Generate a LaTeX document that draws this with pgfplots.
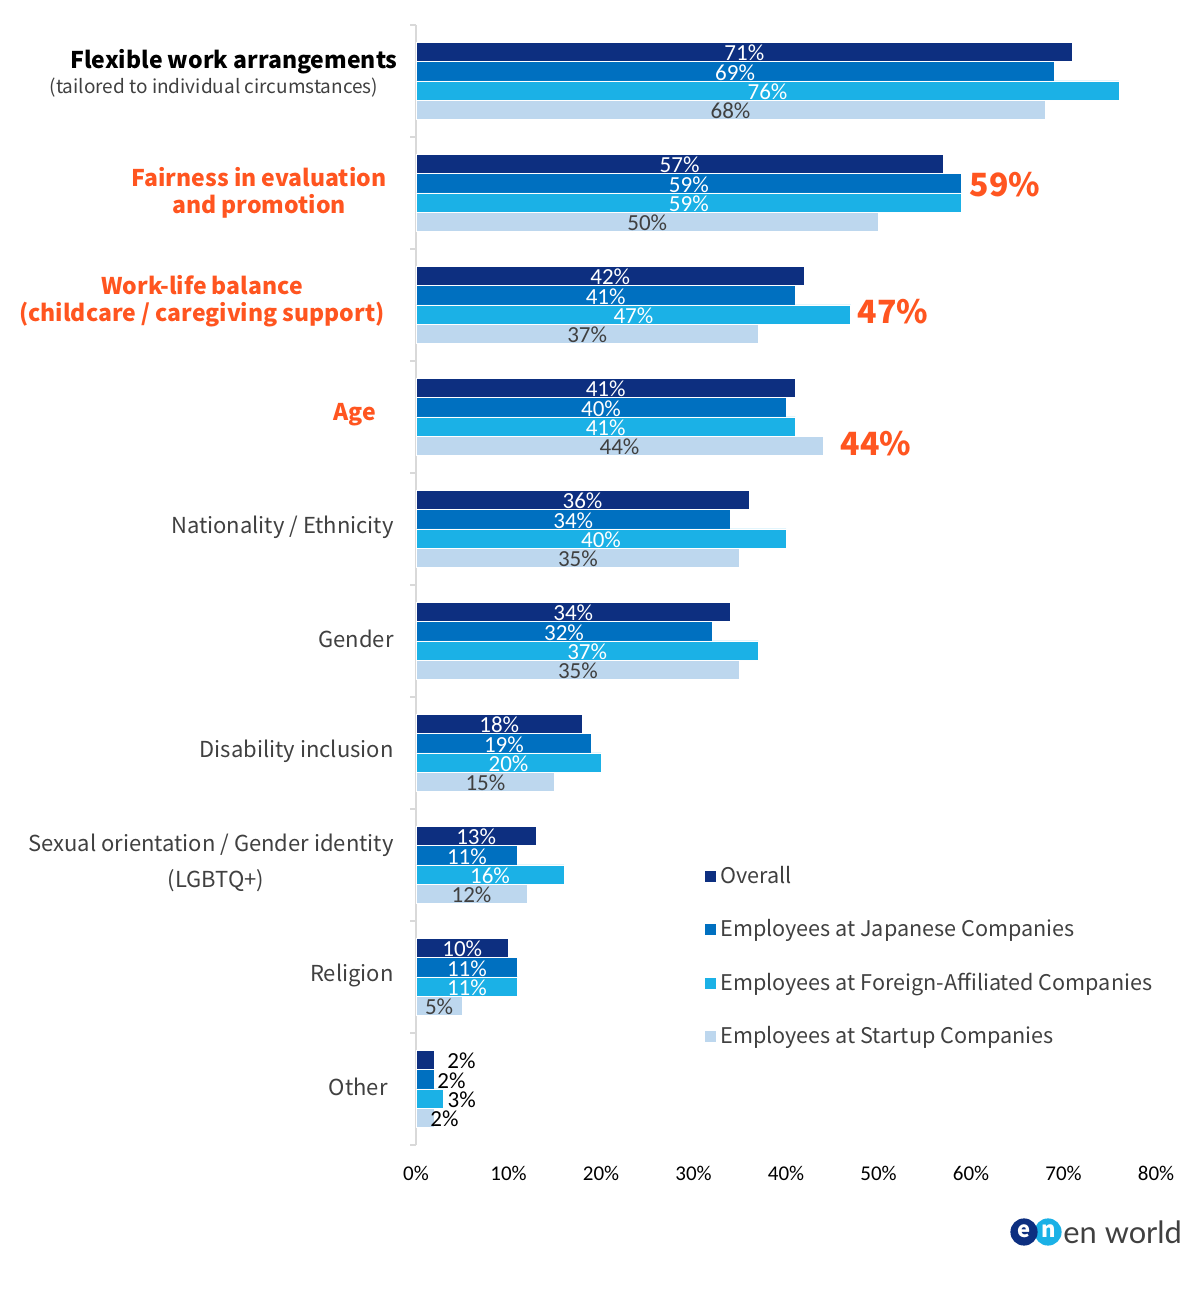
\documentclass[border=0pt]{standalone}
\usepackage{fontspec}
\setmainfont{Noto Sans CJK JP}
\newfontfamily\numfont{Carlito}
\newfontfamily\logofont{Lato}
\usepackage{pgfplots}
\pgfplotsset{compat=1.18}
\definecolor{cNavy}{HTML}{0D2F80}
\definecolor{cJap}{HTML}{0070C0}
\definecolor{cFor}{HTML}{1BB1E6}
\definecolor{cStart}{HTML}{BDD7EE}
\definecolor{cOrange}{HTML}{FF5520}
\definecolor{cText}{HTML}{404040}
\definecolor{cAxis}{HTML}{D9D9D9}
\begin{document}
\begin{tikzpicture}[x=1pt,y=1pt]
\begin{axis}[
  at={(208pt,72pt)}, anchor=south west,
  scale only axis, width=370pt, height=560pt,
  xmin=0, xmax=80, ymin=-0.5, ymax=9.5,
  xbar, bar width=0.172,
  clip=false,
  axis lines=left, axis line style={-},
  x axis line style={draw=none},
  y axis line style={draw=cAxis, line width=0.6pt},
  xtick={0,10,...,80},
  xticklabel={\pgfmathprintnumber{\tick}\%},
  /pgf/number format/assume math mode=true,
  xticklabel style={font=\numfont\fontsize{10.5}{12}\selectfont, text=black, yshift=-4pt},
  major x tick style={draw=none},
  ytick={-0.5,0.5,...,9.5},
  yticklabel={\mbox{}},
  tick align=outside,
  major tick length=3pt,
  major y tick style={draw=cAxis, line width=0.6pt},
  visualization depends on={x \as \xv},
  nodes near coords={\ifdim\xv pt<5pt\color{black}\fi\pgfmathprintnumber{\xv}\%},
  every node near coord/.append style={anchor=center, inner sep=0pt, yshift=-0.5pt, font=\numfont\fontsize{11.5}{12}\selectfont},
  legend image code/.code={\fill[#1] (0pt,-3pt) rectangle (6pt,3pt);},
  legend style={at={(0.388,0.253)}, anchor=north west, draw=none, fill=none,
    font=\fontsize{10.8}{12.5}\selectfont, text=cText, row sep=12.6pt, inner sep=0pt,
    nodes={inner sep=2pt}},
  legend cell align=left,
]
\addplot[fill=cNavy, draw=white, line width=0.4pt, bar shift=0.258,
  every node near coord/.append style={text=white, xshift={(\xv<5 ? 13.5 : -2.3125*\xv)*1pt}}]
  coordinates {(71,9) (57,8) (42,7) (41,6) (36,5) (34,4) (18,3) (13,2) (10,1) (2,0)};
\addplot[fill=cJap, draw=white, line width=0.4pt, bar shift=0.086,
  every node near coord/.append style={text=white, xshift={(\xv<5 ? 8.5 : -2.3125*\xv)*1pt}}]
  coordinates {(69,9) (59,8) (41,7) (40,6) (34,5) (32,4) (19,3) (11,2) (11,1) (2,0)};
\addplot[fill=cFor, draw=white, line width=0.4pt, bar shift=-0.086,
  every node near coord/.append style={text=white, xshift={(\xv<5 ? 9 : -2.3125*\xv)*1pt}}]
  coordinates {(76,9) (59,8) (47,7) (41,6) (40,5) (37,4) (20,3) (16,2) (11,1) (3,0)};
\addplot[fill=cStart, draw=white, line width=0.4pt, bar shift=-0.258,
  every node near coord/.append style={text=cText, xshift={(\xv<5 ? 5 : -2.3125*\xv)*1pt}}]
  coordinates {(68,9) (50,8) (37,7) (44,6) (35,5) (35,4) (15,3) (12,2) (5,1) (2,0)};
\legend{Overall, Employees at Japanese Companies, Employees at Foreign-Affiliated Companies, Employees at Startup Companies}
\end{axis}
% category labels
\node[font=\bfseries\fontsize{11.5}{13}\selectfont, text=black] at (117,613.5) {Flexible work arrangements};
\node[font=\fontsize{9.5}{11}\selectfont, text=cText] at (107,600.5) {(tailored to individual circumstances)};
\node[font=\bfseries\fontsize{11.5}{13}\selectfont, text=cOrange] at (129.5,556) {Fairness in evaluation};
\node[font=\bfseries\fontsize{11.5}{13}\selectfont, text=cOrange] at (129.5,541.5) {and promotion};
\node[font=\bfseries\fontsize{11.5}{13}\selectfont, text=cOrange] at (101,502) {Work-life balance};
\node[font=\bfseries\fontsize{11.5}{13}\selectfont, text=cOrange] at (101,487) {(childcare / caregiving support)};
\node[font=\bfseries\fontsize{11.5}{13}\selectfont, text=cOrange] at (177.5,437) {Age};
\node[font=\fontsize{11}{13}\selectfont, text=cText, anchor=east, inner sep=0pt] at (197,381) {Nationality / Ethnicity};
\node[font=\fontsize{11}{13}\selectfont, text=cText, anchor=east, inner sep=0pt] at (197,325) {Gender};
\node[font=\fontsize{11}{13}\selectfont, text=cText, anchor=east, inner sep=0pt] at (197,269) {Disability inclusion};
\node[font=\fontsize{11}{13}\selectfont, text=cText, anchor=east, inner sep=0pt] at (197,222) {Sexual orientation / Gender identity};
\node[font=\fontsize{11}{13}\selectfont, text=cText] at (108,204) {(LGBTQ+)};
\node[font=\fontsize{11}{13}\selectfont, text=cText, anchor=east, inner sep=0pt] at (197,157) {Religion};
\node[font=\fontsize{11}{13}\selectfont, text=cText, anchor=east, inner sep=0pt] at (194,101) {Other};
% highlight values
\node[font=\bfseries\fontsize{16}{18}\selectfont, text=cOrange] at (502.5,552) {59\%};
\node[font=\bfseries\fontsize{16}{18}\selectfont, text=cOrange] at (446.5,488.5) {47\%};
\node[font=\bfseries\fontsize{16}{18}\selectfont, text=cOrange] at (438,422.5) {44\%};
% logo
\fill[cFor] (524,28.5) circle (6.8);
\fill[cNavy] (512,28.5) circle (6.8);
\node[text=white, font=\bfseries\fontsize{11}{12}\selectfont, inner sep=0pt] at (512,29) {e};
\node[text=white, font=\bfseries\fontsize{11}{12}\selectfont, inner sep=0pt] at (524.5,29) {n};
\node[text=cText, font=\logofont\fontsize{15.4}{18}\selectfont, anchor=base west, inner sep=0pt] at (531.5,22.5) {en world};
\pgfresetboundingbox
\useasboundingbox (0,0) rectangle (600,644.5);
\end{tikzpicture}
\end{document}
